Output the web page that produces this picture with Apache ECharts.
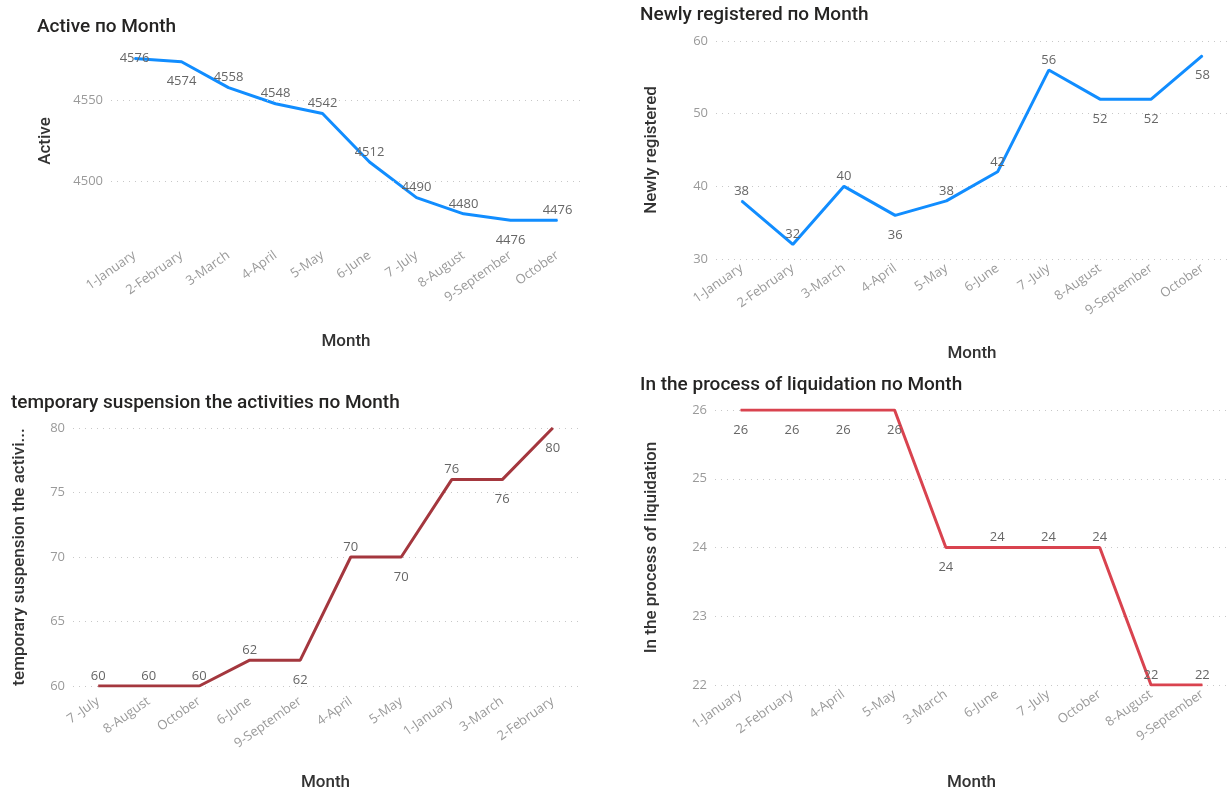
<!DOCTYPE html>
<html>
<head>
<meta charset="utf-8">
<script src="https://cdn.jsdelivr.net/npm/echarts@6/dist/echarts.min.js"></script>
<style>
  html, body { margin: 0; padding: 0; background: #fff; }
  #main_chart { width: 1228px; height: 792px; }
</style>
</head>
<body>
<div id="main_chart"></div>
<script>
// chart data
var activeMonths = ['1-January', '2-February', '3-March', '4-April', '5-May', '6-June', '7 -July', '8-August', '9-September', 'October'];
var activeValues = [4576, 4574, 4558, 4548, 4542, 4512, 4490, 4480, 4476, 4476];
var activeTicks = [4500, 4550];

var newMonths = ['1-January', '2-February', '3-March', '4-April', '5-May', '6-June', '7 -July', '8-August', '9-September', 'October'];
var newValues = [38, 32, 40, 36, 38, 42, 56, 52, 52, 58];

var suspMonths = ['7 -July', '8-August', 'October', '6-June', '9-September', '4-April', '5-May', '1-January', '3-March', '2-February'];
var suspValues = [60, 60, 60, 62, 62, 70, 70, 76, 76, 80];

var liqMonths = ['1-January', '2-February', '4-April', '5-May', '3-March', '6-June', '7 -July', 'October', '8-August', '9-September'];
var liqValues = [26, 26, 26, 26, 24, 24, 24, 24, 22, 22];

// where each data label sits (above / below the point)
var activeSides = ['inside', 'bottom', 'top', 'top', 'top', 'top', 'top', 'top', 'bottom', 'top'];
var newSides = ['top', 'top', 'top', 'bottom', 'top', 'top', 'top', 'bottom', 'bottom', 'bottom'];
var suspSides = ['top', 'top', 'top', 'top', 'bottom', 'top', 'bottom', 'top', 'bottom', 'bottom'];
var liqSides = ['bottom', 'bottom', 'bottom', 'bottom', 'bottom', 'top', 'top', 'top', 'top', 'top'];

var LABEL_FONT = "'Segoe UI', 'Open Sans', sans-serif";
var TITLE_FONT = "Roboto, 'Noto Sans', sans-serif";
var gridDots = { color: '#c8c8c8', width: 1, type: [1, 5] };

var mychart = echarts.init(document.getElementById('main_chart'));

function xAxisOf(i, cats, gap, margin) {
    return {
        type: 'category', gridIndex: i, data: cats, boundaryGap: true,
        axisLine: { show: false }, axisTick: { show: false },
        axisLabel: { rotate: 35, margin: margin, color: '#9a9a9a', fontSize: 13, fontFamily: LABEL_FONT, interval: 0 },
        name: 'Month', nameLocation: 'middle', nameGap: gap,
        nameTextStyle: { color: '#333', fontSize: 17, fontWeight: 500, fontFamily: TITLE_FONT }
    };
}

function yAxisOf(i, name, min, max, step, gap) {
    return {
        type: 'value', gridIndex: i, min: min, max: max, interval: step,
        axisLine: { show: false }, axisTick: { show: false },
        splitLine: { show: true, lineStyle: gridDots },
        axisLabel: { color: '#9a9a9a', fontSize: 13, fontFamily: LABEL_FONT, margin: 8 },
        name: name, nameLocation: 'middle', nameGap: gap, nameRotate: 90,
        nameTextStyle: { color: '#333', fontSize: 17, fontWeight: 500, fontFamily: TITLE_FONT }
    };
}

function seriesOf(i, values, sides, color) {
    return {
        type: 'line', xAxisIndex: i, yAxisIndex: i,
        symbol: 'circle', symbolSize: 1, showSymbol: true,
        itemStyle: { color: color },
        lineStyle: { color: color, width: 3 },
        label: { show: true, color: '#666', fontSize: 13, fontFamily: LABEL_FONT },
        data: values.map(function (v, k) {
            // labels below the line sit a bit further away, like in Power BI
            return { value: v, label: { position: sides[k], distance: sides[k] === 'bottom' ? 13 : 3 } };
        })
    };
}

var titleStyle = { color: '#252423', fontSize: 19, fontWeight: 500, fontFamily: TITLE_FONT };

var yActive = yAxisOf(0, 'Active', 4470, 4580, 10, 57);
yActive.splitLine = { show: false };
yActive.axisLabel.formatter = function (v) { return activeTicks.indexOf(v) >= 0 ? String(v) : ''; };

var sActive = seriesOf(0, activeValues, activeSides, '#118DFF');
sActive.markLine = {
    silent: true, symbol: 'none', label: { show: false },
    lineStyle: gridDots,
    data: activeTicks.map(function (t) { return { yAxis: t }; })
};

var option = {
    animation: false,
    title: [
        { text: 'Active по Month', left: 37, top: 18, padding: 0, textStyle: titleStyle },
        { text: 'Newly registered по Month', left: 640, top: 6, padding: 0, textStyle: titleStyle },
        { text: 'temporary suspension the activities по Month', left: 11, top: 394, padding: 0, textStyle: titleStyle },
        { text: 'In the process of liquidation по Month', left: 640, top: 376, padding: 0, textStyle: titleStyle }
    ],
    grid: [
        { left: 111, width: 470, top: 52, height: 178 },
        { left: 716, width: 520, top: 41, height: 218 },
        { left: 73, width: 505, top: 428, height: 262 },
        { left: 715, width: 521, top: 410, height: 279 }
    ],
    xAxis: [
        xAxisOf(0, activeMonths, 103, 24),
        xAxisOf(1, newMonths, 86, 8),
        xAxisOf(2, suspMonths, 88, 14),
        xAxisOf(3, liqMonths, 89, 8)
    ],
    yAxis: [
        yActive,
        yAxisOf(1, 'Newly registered', 30, 60, 10, 56),
        yAxisOf(2, 'temporary suspension the activi...', 60, 80, 5, 45),
        yAxisOf(3, 'In the process of liquidation', 22, 26, 1, 55)
    ],
    series: [
        sActive,
        seriesOf(1, newValues, newSides, '#118DFF'),
        seriesOf(2, suspValues, suspSides, '#A4373E'),
        seriesOf(3, liqValues, liqSides, '#D9434F')
    ]
};

mychart.setOption(option);
</script>
</body>
</html>
